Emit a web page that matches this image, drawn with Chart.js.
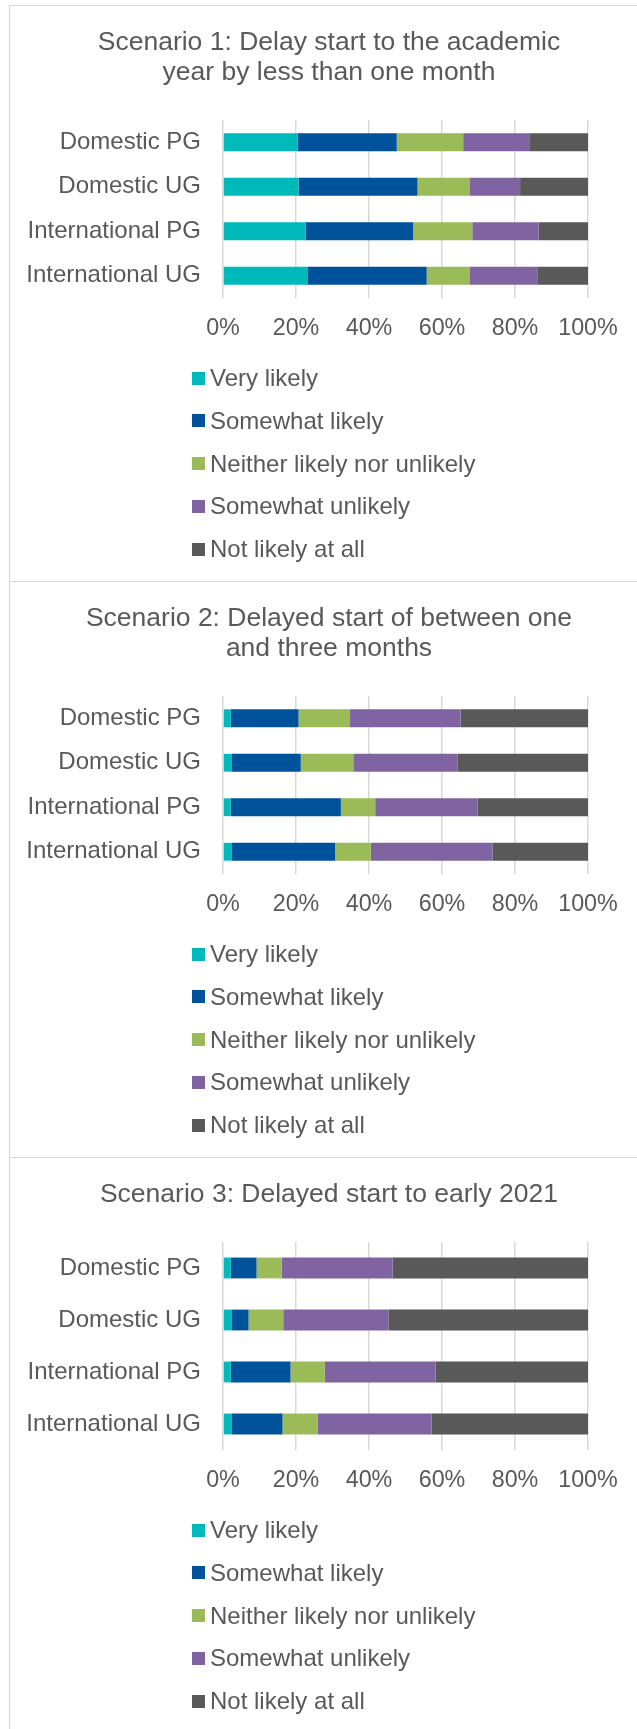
<!DOCTYPE html>
<html>
<head>
<meta charset="utf-8">
<script src="https://cdn.jsdelivr.net/npm/chart.js@4/dist/chart.umd.min.js"></script>
<style>
  html, body { margin: 0; padding: 0; background: #ffffff; }
  #page { position: relative; width: 637px; height: 1729px; overflow: hidden; background: #ffffff;
          font-family: 'Liberation Sans', Arial, sans-serif; }
  .hline { position: absolute; left: 9px; width: 640px; height: 1px; background: #d6d6d6; }
  .vline { position: absolute; left: 9px; top: 5px; width: 1px; height: 1740px; background: #d6d6d6; }
  canvas { position: absolute; left: 10px; }
  .legend { position: absolute; left: 0; width: 637px; }
  .item { position: absolute; left: 192px; height: 30px; }
  .sw { position: absolute; left: 0; top: 8.5px; width: 13px; height: 13px; }
  .lbl { position: absolute; left: 18px; top: 0; line-height: 30px; font-size: 24px; color: #595959; white-space: nowrap; }
</style>
</head>
<body>
<div id="page"></div>
<script>
// ---- Data ----
const categories = ['Domestic PG', 'Domestic UG', 'International PG', 'International UG'];
const seriesNames = ['Very likely', 'Somewhat likely', 'Neither likely nor unlikely', 'Somewhat unlikely', 'Not likely at all'];
const xTickValues = [0, 20, 40, 60, 80, 100];

const title1 = ['Scenario 1: Delay start to the academic', 'year by less than one month'];
const title2 = ['Scenario 2: Delayed start of between one', 'and three months'];
const title3 = ['Scenario 3: Delayed start to early 2021'];

// Scenario 1 (% per category, in order of categories)
const s1VeryLikely        = [20.4, 20.7, 22.6, 23.1];
const s1SomewhatLikely    = [27.2, 32.6, 29.5, 32.7];
const s1Neither           = [18.2, 14.2, 16.2, 11.7];
const s1SomewhatUnlikely  = [18.3, 13.9, 18.2, 18.6];
const s1NotLikely         = [15.9, 18.6, 13.5, 13.9];

// Scenario 2
const s2VeryLikely        = [2.1, 2.3, 2.1, 2.3];
const s2SomewhatLikely    = [18.6, 19.0, 30.2, 28.4];
const s2Neither           = [14.1, 14.4, 9.4, 9.8];
const s2SomewhatUnlikely  = [30.3, 28.5, 28.0, 33.4];
const s2NotLikely         = [34.9, 35.8, 30.3, 26.1];

// Scenario 3
const s3VeryLikely        = [2.1, 2.3, 2.1, 2.3];
const s3SomewhatLikely    = [7.1, 4.7, 16.4, 14.0];
const s3Neither           = [6.9, 9.5, 9.4, 9.7];
const s3SomewhatUnlikely  = [30.4, 28.8, 30.3, 31.1];
const s3NotLikely         = [53.5, 54.7, 41.8, 42.9];

// ---- Styles ----
const seriesColors = ['#00B9BB', '#00529B', '#9BBB59', '#8064A2', '#595959'];
const textColor = '#595959';
const fontFamily = "'Liberation Sans', Arial, sans-serif";

const panels = [
  { top: 5,    title: title1, values: [s1VeryLikely, s1SomewhatLikely, s1Neither, s1SomewhatUnlikely, s1NotLikely] },
  { top: 581,  title: title2, values: [s2VeryLikely, s2SomewhatLikely, s2Neither, s2SomewhatUnlikely, s2NotLikely] },
  { top: 1157, title: title3, values: [s3VeryLikely, s3SomewhatLikely, s3Neither, s3SomewhatUnlikely, s3NotLikely] }
];

const page = document.getElementById('page');
const v = document.createElement('div'); v.className = 'vline'; page.appendChild(v);

const PANEL_H = 576;

panels.forEach((p) => {
  const h = document.createElement('div');
  h.className = 'hline'; h.style.top = p.top + 'px';
  page.appendChild(h);

  const c = document.createElement('canvas');
  c.width = 638; c.height = PANEL_H;
  c.style.top = p.top + 'px';
  c.style.width = '638px'; c.style.height = PANEL_H + 'px';
  page.appendChild(c);

  const chart = new Chart(c.getContext('2d'), {
    type: 'bar',
    data: {
      labels: categories,
      datasets: seriesNames.map((name, i) => ({
        label: name,
        data: p.values[i],
        backgroundColor: seriesColors[i],
        borderWidth: 0,
        categoryPercentage: 1.0,
        barPercentage: 0.4
      }))
    },
    options: {
      indexAxis: 'y',
      responsive: false,
      animation: false,
      devicePixelRatio: 1,
      layout: { padding: { left: 0, right: 0, top: 0, bottom: 233 } },
      plugins: {
        legend: { display: false },
        tooltip: { enabled: false },
        title: {
          display: true,
          text: p.title,
          color: textColor,
          font: { family: fontFamily, size: 26.5, weight: 'normal', lineHeight: '30px' },
          padding: { top: 22.5, bottom: 32.5 }
        }
      },
      scales: {
        x: {
          stacked: true,
          min: 0, max: 100,
          afterBuildTicks: (scale) => { scale.ticks = xTickValues.map(t => ({ value: t })); },
          afterFit: (scale) => { scale.height = 50; },
          ticks: {
            color: textColor,
            font: { family: fontFamily, size: 23.3 },
            padding: 17,
            callback: (val) => val + '%'
          },
          grid: { color: '#d9d9d9', lineWidth: 1.5, drawTicks: false },
          border: { display: false }
        },
        y: {
          stacked: true,
          afterFit: (scale) => { scale.width = 213; },
          ticks: {
            color: textColor,
            font: { family: fontFamily, size: 24 },
            padding: 22
          },
          grid: { display: false, drawTicks: false },
          border: { display: false }
        },
        yRight: {
          type: 'category',
          position: 'right',
          afterFit: (scale) => { scale.width = 60; },
          ticks: { display: false },
          grid: { display: false, drawTicks: false },
          border: { display: false }
        }
      }
    }
  });

  // HTML legend built from the chart's datasets
  const lg = document.createElement('div');
  lg.className = 'legend';
  lg.style.top = p.top + 'px';
  chart.data.datasets.forEach((ds, i) => {
    const it = document.createElement('div');
    it.className = 'item';
    it.style.top = (373 - 15 + i * 42.75) + 'px';
    const sw = document.createElement('div'); sw.className = 'sw'; sw.style.background = ds.backgroundColor;
    const lb = document.createElement('div'); lb.className = 'lbl'; lb.textContent = ds.label;
    it.appendChild(sw); it.appendChild(lb);
    lg.appendChild(it);
  });
  page.appendChild(lg);
});
</script>
</body>
</html>
